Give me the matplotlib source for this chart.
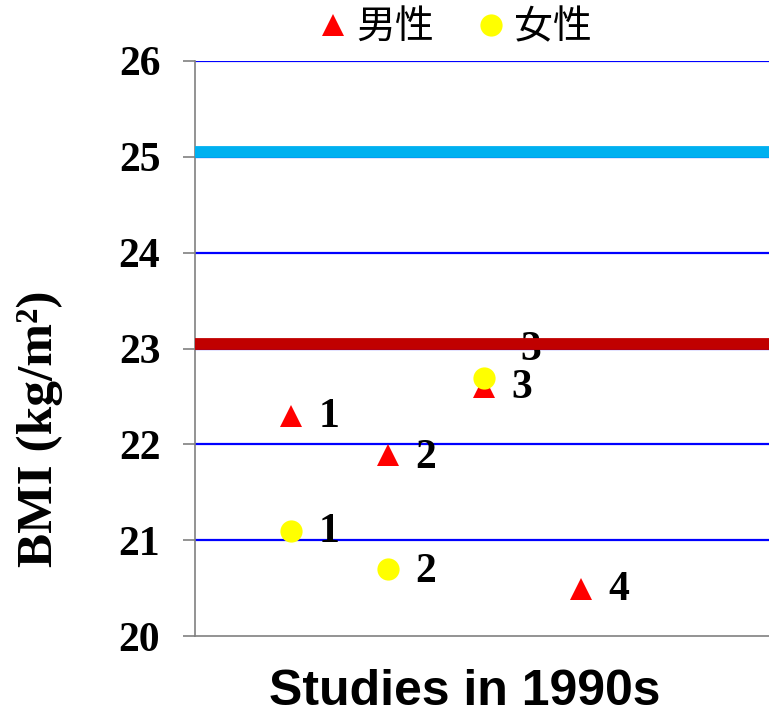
import matplotlib.pyplot as plt

# ---------- data ----------
male_x = [1, 2, 3, 4]
male_bmi = [22.30, 21.89, 22.60, 20.49]
male_labels = ["1", "2", "3", "4"]

female_x = [1, 2, 3]
female_bmi = [21.10, 20.70, 22.69]
female_labels = ["1", "2", "3"]

overweight_cut = 25.05   # light blue line
asian_cut = 23.05        # dark red line

yticks = [20, 21, 22, 23, 24, 25, 26]

# label offsets (points) next to each marker
male_off = [(27, -1), (27, -2), (27, -1), (27, -1)]
female_off = [(27, -1), (27, -2), (33, 20)]

SERIF = "Liberation Serif"

fig = plt.figure(figsize=(7.69, 7.14), dpi=100)
ax = fig.add_axes([0.2536, 0.1092, 0.7464, 0.8054])
ax.set_xlim(0, 5.95)
ax.set_ylim(20, 26)

for y in yticks[1:]:
    ax.axhline(y, color="#0000ff", lw=1.6, zorder=1)

ax.axhline(overweight_cut, color="#00b0f0", lw=8.5, zorder=5)
ax.axhline(asian_cut, color="#c00000", lw=8.5, zorder=5)

ax.plot(male_x, male_bmi, "^", color="#ff0000", ms=16, mew=0, ls="none",
        zorder=3, label="男性")
ax.plot(female_x, female_bmi, "o", color="#ffff00", ms=16, mew=0, ls="none",
        zorder=4, label="女性")

for x, y, t, off in zip(male_x, male_bmi, male_labels, male_off):
    ax.annotate(t, (x, y), xytext=off, textcoords="offset points",
                ha="center", va="center", fontsize=30, fontweight="bold",
                family=SERIF, zorder=4)
for x, y, t, off in zip(female_x, female_bmi, female_labels, female_off):
    ax.annotate(t, (x, y), xytext=off, textcoords="offset points",
                ha="center", va="center", fontsize=30, fontweight="bold",
                family=SERIF, zorder=4)

ax.set_yticks(yticks)
ax.set_yticklabels([str(v) for v in yticks], fontsize=30, fontweight="bold",
                   family=SERIF)
ax.set_xticks([])
ax.tick_params(axis="y", length=9, width=1.2, color="#808080", pad=16)
for s in ["top", "right"]:
    ax.spines[s].set_visible(False)
for s in ["left", "bottom"]:
    ax.spines[s].set_color("#808080")
    ax.spines[s].set_linewidth(1.2)

fig.text(0.052, 0.40, "BMI (kg/m²)", rotation=90, ha="center", va="center",
         fontsize=37, fontweight="bold", family=SERIF)
fig.text(465 / 769, 0.031, "Studies in 1990s", ha="center", va="center",
         fontsize=36, fontweight="bold", family="Liberation Sans")

leg = fig.legend(loc="center", bbox_to_anchor=(453 / 769, 0.962), ncol=2,
                 frameon=False, handletextpad=0.1, columnspacing=0.95,
                 handlelength=1.0, borderpad=0,
                 prop={"family": ["Noto Sans CJK JP", "DejaVu Sans"], "size": 28})

fig.savefig("out.png", dpi=100, facecolor="white")
